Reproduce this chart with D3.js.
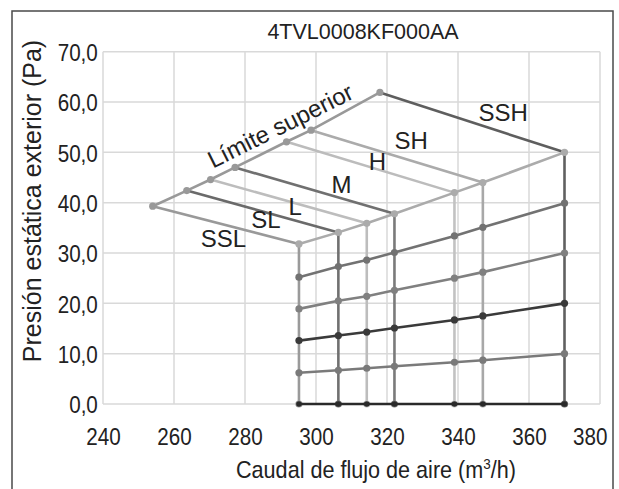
<!DOCTYPE html>
<html><head><meta charset="utf-8">
<script src="https://cdn.jsdelivr.net/npm/d3@7"></script>
<style>
html,body{margin:0;padding:0;background:#fff;}
svg text{font-family:"Liberation Sans",Arial,sans-serif;fill:#222;}
</style></head>
<body>
<svg id="chart" width="619" height="489"></svg>
<script>
// ---- data ----
const title = "4TVL0008KF000AA";
const speeds = ["SSL","SL","L","M","H","SH","SSH"];
// upper-left end of each speed curve (on the "Límite superior" line)
const leftFlow  = [254.0, 263.6, 270.3, 277.2, 291.7, 298.6, 318.0];
const leftPress = [39.3, 42.4, 44.6, 47.0, 52.1, 54.4, 61.9];
// lower-right end of each speed curve
const rightFlow  = [295.2, 306.3, 314.3, 322.1, 339.0, 347.0, 370.0];
const rightPress = [31.8, 34.1, 35.9, 37.8, 42.0, 44.0, 50.0];
// constant-resistance rows on the vertical lines
const row80 = [25.2, 27.3, 28.6, 30.1, 33.4, 35.1, 39.9];
const row60 = [18.9, 20.5, 21.4, 22.6, 25.0, 26.2, 30.0];
const row40 = [12.6, 13.6, 14.3, 15.1, 16.7, 17.5, 20.0];
const row20 = [6.2, 6.7, 7.1, 7.5, 8.3, 8.7, 10.0];
const row0  = [0, 0, 0, 0, 0, 0, 0];
const xTicks = [240, 260, 280, 300, 320, 340, 360, 380];
const yTicks = [0, 10, 20, 30, 40, 50, 60, 70];
// label anchors (flow, pressure)
const labelText  = ["SSL","SL","L","M","H","SH","SSH"];
const labelFlow  = [273.9, 285.9, 294.1, 307.2, 317.3, 326.8, 352.7];
const labelPress = [31.2, 35.0, 37.6, 41.9, 46.5, 50.7, 56.3];
const limitLabel = "Límite superior";
const limitLabelFlow = 291.0, limitLabelPress = 53.8;

// ---- styles ----
const speedColor = ["#999999","#6a6a6a","#bdbdbd","#707070","#bcbcbc","#ababab","#5e5e5e"];
const vertColor  = ["#9a9a9a","#707070","#bdbdbd","#7a7a7a","#c2c2c2","#a8a8a8","#606060"];
const rowColor   = ["#727272","#808080","#3a3a3a","#7a7a7a","#2a2a2a"];
const limitColor = "#999999";
const lowerColor = "#ababab";
const lw = 2.6, r = 3.6;
const FONT = "Liberation Sans, Arial, sans-serif";

const svg = d3.select("#chart");
const x = d3.scaleLinear().domain([240, 380]).range([103, 600]);
const y = d3.scaleLinear().domain([0, 70]).range([404, 51.7]);

// frame
svg.append("rect").attr("x",12).attr("y",11).attr("width",601).attr("height",500)
  .attr("fill","none").attr("stroke","#4a4a4a").attr("stroke-width",1.5);

// grid
const grid = svg.append("g");
grid.selectAll("line.v").data(xTicks).join("line")
  .attr("x1",d=>x(d)).attr("x2",d=>x(d)).attr("y1",y(0)).attr("y2",y(70))
  .attr("stroke","#d9d9d9").attr("stroke-width",1.5);
grid.selectAll("line.h").data(yTicks).join("line")
  .attr("y1",d=>y(d)).attr("y2",d=>y(d)).attr("x1",x(240)).attr("x2",x(380))
  .attr("stroke","#d9d9d9").attr("stroke-width",1.5);

// axes (labels only)
const xAxis = d3.axisBottom(x).tickValues(xTicks).tickSize(0).tickPadding(24).tickFormat(d3.format("d"));
const gx = svg.append("g").attr("transform",`translate(0,${y(0)})`).call(xAxis);
gx.select(".domain").remove();
gx.selectAll("text").attr("font-size","24px").attr("fill","#222").attr("font-family",FONT)
  .attr("transform","scale(0.86,1)");
// keep the last label inside the frame
gx.selectAll(".tick").each(function(d){
  const t = d3.select(this).select("text");
  const bb = this.getBBox();
  const right = x(d) + bb.x + bb.width;
  if (right > 607) t.attr("transform",`translate(${607-right},0) scale(0.86,1)`);
});
const yAxis = d3.axisLeft(y).tickValues(yTicks).tickSize(0).tickPadding(6).tickFormat(d=>d3.format(".1f")(d).replace(".",","));
const gy = svg.append("g").attr("transform",`translate(${x(240)},0)`).call(yAxis);
gy.select(".domain").remove();
gy.selectAll("text").attr("font-size","24px").attr("fill","#222").attr("font-family",FONT)
  .attr("transform","translate(0,1) scale(0.86,1)");

const line = d3.line().x(d=>x(d[0])).y(d=>y(d[1]));
const idx = d3.range(speeds.length);

// vertical lines at right ends
idx.forEach(i=>{
  svg.append("path").attr("d",line([[rightFlow[i],0],[rightFlow[i],rightPress[i]]]))
    .attr("stroke",vertColor[i]).attr("stroke-width",lw).attr("fill","none");
});
idx.forEach(i=>{
  svg.append("circle").attr("cx",x(rightFlow[i])).attr("cy",y(0)).attr("r",r).attr("fill",vertColor[i]);
});
// rows
const rows = [row80,row60,row40,row20,row0];
rows.forEach((row,k)=>{
  const pts = idx.map(i=>[rightFlow[i],row[i]]);
  svg.append("path").attr("d",line(pts)).attr("stroke",rowColor[k]).attr("stroke-width",lw).attr("fill","none");
  pts.forEach(p=>svg.append("circle").attr("cx",x(p[0])).attr("cy",y(p[1])).attr("r",k===4?2.8:r).attr("fill",rowColor[k]));
});
// speed curves
idx.forEach(i=>{
  svg.append("path").attr("d",line([[leftFlow[i],leftPress[i]],[rightFlow[i],rightPress[i]]]))
    .attr("stroke",speedColor[i]).attr("stroke-width",lw).attr("fill","none");
});
// lower boundary
svg.append("path").attr("d",line(idx.map(i=>[rightFlow[i],rightPress[i]])))
  .attr("stroke",lowerColor).attr("stroke-width",lw).attr("fill","none");
// limite superior
svg.append("path").attr("d",line(idx.map(i=>[leftFlow[i],leftPress[i]])))
  .attr("stroke",limitColor).attr("stroke-width",lw).attr("fill","none");
// markers
idx.forEach(i=>{
  svg.append("circle").attr("cx",x(leftFlow[i])).attr("cy",y(leftPress[i])).attr("r",r).attr("fill",limitColor);
  svg.append("circle").attr("cx",x(rightFlow[i])).attr("cy",y(rightPress[i])).attr("r",r).attr("fill",lowerColor);
});

// speed labels
idx.forEach(i=>{
  svg.append("text").attr("x",x(labelFlow[i])).attr("y",y(labelPress[i]))
    .attr("text-anchor","middle").attr("font-size","24px").text(labelText[i]);
});
// limite superior label
const ang = Math.atan2(y(leftPress[6])-y(leftPress[0]), x(leftFlow[6])-x(leftFlow[0]))*180/Math.PI;
svg.append("text").attr("transform",`translate(${x(limitLabelFlow)},${y(limitLabelPress)}) rotate(${ang})`)
  .attr("text-anchor","middle").attr("font-size","24px").text(limitLabel);

// title
svg.append("text").attr("x",363).attr("y",39).attr("text-anchor","middle").attr("font-size","21.5px").text(title);
// axis titles
const xt = svg.append("text").attr("transform","translate(376,478) scale(0.9,1)").attr("text-anchor","middle").attr("font-size","24px");
xt.append("tspan").text("Caudal de flujo de aire (m");
xt.append("tspan").attr("font-size","15px").attr("dy",-9).text("3");
xt.append("tspan").attr("dy",9).text("/h)");
svg.append("text").attr("transform","translate(41,201) rotate(-90)").attr("text-anchor","middle")
  .attr("font-size","25px").text("Presión estática exterior (Pa)");
</script>
</body></html>
